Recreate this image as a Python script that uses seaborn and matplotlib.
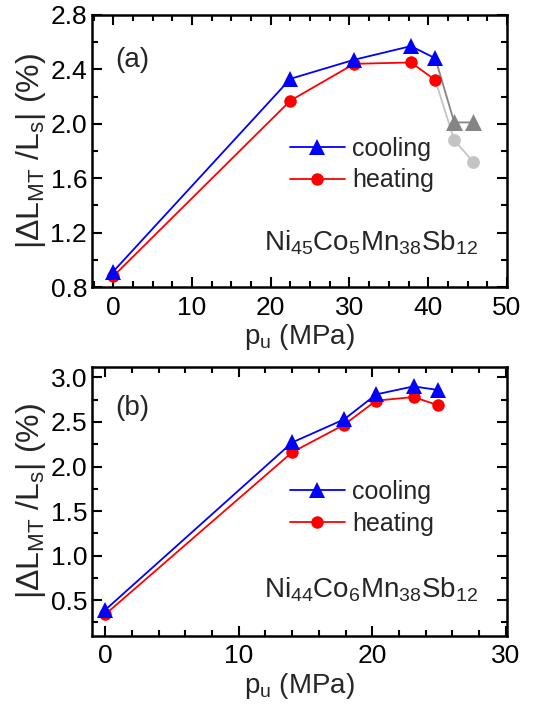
import numpy as np
import pandas as pd
import seaborn as sns
import matplotlib
matplotlib.use("Agg")
import matplotlib.pyplot as plt
from matplotlib.ticker import MultipleLocator, FormatStrFormatter

# ---------------- data ----------------
# panel (a) Ni45Co5Mn38Sb12
pa_x = [0.0, 22.5, 30.6, 37.8, 40.9]
pa_cool = [0.915, 2.33, 2.47, 2.57, 2.48]
pa_heat = [0.88, 2.17, 2.44, 2.45, 2.32]
pa_gray_x = [43.3, 45.7]
pa_gray_cool = [2.01, 2.01]
pa_gray_heat = [1.88, 1.72]

# panel (b) Ni44Co6Mn38Sb12
pb_x = [0.0, 14.0, 17.9, 20.3, 23.1, 24.9]
pb_cool = [0.39, 2.27, 2.53, 2.81, 2.90, 2.86]
pb_heat = [0.34, 2.16, 2.47, 2.74, 2.78, 2.69]

labels = ["cooling", "heating"]
compositions = [r"Ni$_{45}$Co$_{5}$Mn$_{38}$Sb$_{12}$",
                r"Ni$_{44}$Co$_{6}$Mn$_{38}$Sb$_{12}$"]
panel_tags = ["(a)", "(b)"]

# ---------------- style ----------------
sns.set_theme(style="ticks")
MAIN = "Liberation Sans"
plt.rcParams["font.family"] = [MAIN, "DejaVu Sans"]
plt.rcParams["mathtext.fontset"] = "custom"
plt.rcParams["mathtext.rm"] = MAIN
plt.rcParams["mathtext.it"] = MAIN
plt.rcParams["mathtext.default"] = "regular"

FS_TICK = 19
FS_XLAB = 20
FS_YLAB = 23
FS_LEG = 18
FS_TXT = 20
BLUE = "#0000ff"
RED = "#ff0000"
DGRAY = "#858585"
LGRAY = "#c4c4c4"

fig = plt.figure(figsize=(5.44, 7.04), dpi=100)
ax_a = fig.add_axes([0.169, 0.592, 0.763, 0.387])
ax_b = fig.add_axes([0.169, 0.097, 0.763, 0.382])

def style_axis(ax):
    for s in ax.spines.values():
        s.set_linewidth(1.8)
        s.set_color("black")
    ax.tick_params(which="both", direction="in", top=True, right=True,
                   colors="black", labelsize=FS_TICK, width=1.5)
    ax.tick_params(which="major", length=7)
    ax.tick_params(which="minor", length=4)
    ax.tick_params(axis="x", which="major", pad=6)
    ax.set_xlabel(r"p$_{u}$ (MPa)", fontsize=FS_XLAB, labelpad=2)
    ax.set_ylabel(r"|$\Delta$L$_{MT}$ /L$_{s}$| (%)", fontsize=FS_YLAB, labelpad=2)

def draw_main(ax, x, cool, heat):
    df = pd.DataFrame({"p": x + x,
                       "v": cool + heat,
                       "mode": [labels[0]] * len(x) + [labels[1]] * len(x)})
    sns.lineplot(data=df[df["mode"] == labels[0]], x="p", y="v", ax=ax,
                 color=BLUE, marker="^", markersize=12, markeredgewidth=0,
                 linewidth=1.3, label=labels[0], zorder=4)
    sns.lineplot(data=df[df["mode"] == labels[1]], x="p", y="v", ax=ax,
                 color=RED, marker="o", markersize=9, markeredgewidth=0,
                 linewidth=1.3, label=labels[1], zorder=3)

# ---- panel (a)
draw_main(ax_a, pa_x, pa_cool, pa_heat)
sns.lineplot(x=[pa_x[-1]] + pa_gray_x, y=[pa_cool[-1]] + pa_gray_cool, ax=ax_a,
             color=DGRAY, linewidth=1.3, legend=False, zorder=2)
sns.scatterplot(x=pa_gray_x, y=pa_gray_cool, ax=ax_a, color=DGRAY, marker="^",
                s=150, linewidth=0, legend=False, zorder=2)
sns.lineplot(x=[pa_x[-1]] + pa_gray_x, y=[pa_heat[-1]] + pa_gray_heat, ax=ax_a,
             color=LGRAY, linewidth=1.3, legend=False, zorder=1)
sns.scatterplot(x=pa_gray_x, y=pa_gray_heat, ax=ax_a, color=LGRAY, marker="o",
                s=85, linewidth=0, legend=False, zorder=1)
ax_a.set_xlim(-2.7, 50)
ax_a.set_ylim(0.8, 2.8)
ax_a.xaxis.set_major_locator(MultipleLocator(10))
ax_a.xaxis.set_minor_locator(MultipleLocator(2.5))
ax_a.yaxis.set_major_locator(MultipleLocator(0.4))
ax_a.yaxis.set_minor_locator(MultipleLocator(0.2))
ax_a.yaxis.set_major_formatter(FormatStrFormatter("%.1f"))

# ---- panel (b)
draw_main(ax_b, pb_x, pb_cool, pb_heat)
ax_b.set_xlim(-1.0, 30.1)
ax_b.set_ylim(0.1, 3.12)
ax_b.xaxis.set_major_locator(MultipleLocator(10))
ax_b.xaxis.set_minor_locator(MultipleLocator(2))
ax_b.yaxis.set_major_locator(MultipleLocator(0.5))
ax_b.yaxis.set_minor_locator(MultipleLocator(0.25))
ax_b.yaxis.set_major_formatter(FormatStrFormatter("%.1f"))

legend_y = [0.45, 0.475]
comp_y = [0.136, 0.141]
tag_y = [0.81, 0.82]
for ax, comp, tag, ly, cy, ty in zip([ax_a, ax_b], compositions, panel_tags,
                                     legend_y, comp_y, tag_y):
    style_axis(ax)
    ax.text(0.055, ty, tag, transform=ax.transAxes, fontsize=FS_TXT, ha="left", va="baseline")
    ax.text(0.93, cy, comp, transform=ax.transAxes, fontsize=FS_TXT, ha="right", va="baseline")
    ax.legend(loc="center left", bbox_to_anchor=(0.477, ly), frameon=False,
              fontsize=FS_LEG, handlelength=2.2, handletextpad=0.3,
              labelspacing=0.3, borderpad=0.0, borderaxespad=0.0)

fig.savefig("out.png", dpi=100)
